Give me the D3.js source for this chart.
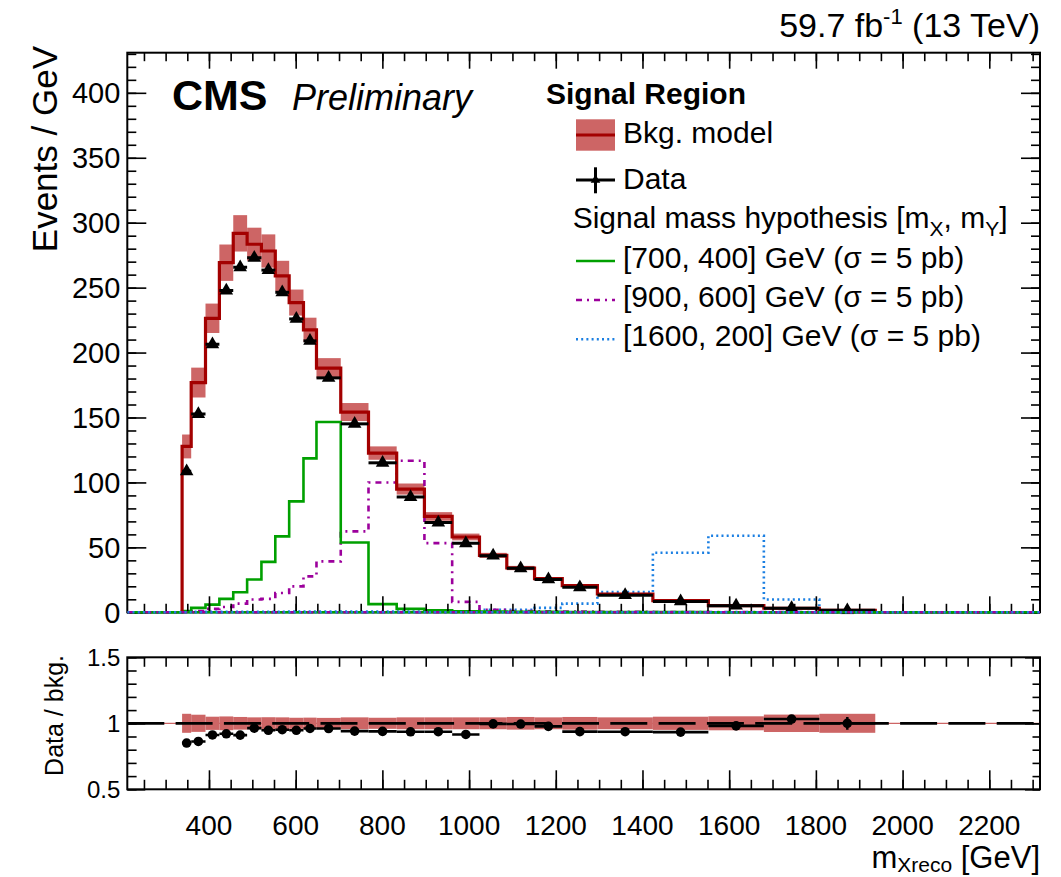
<!DOCTYPE html>
<html><head><meta charset="utf-8">
<script src="https://cdn.jsdelivr.net/npm/d3@7"></script>
<style>body{margin:0;background:#fff} text{font-family:"Liberation Sans",Arial,Helvetica,sans-serif;fill:#000}</style>
</head><body><svg id="c" width="1061" height="877"></svg>
<script>
// ---------------- data ----------------
const binEdges = [338, 359, 392, 424, 456, 488, 521, 553, 585, 618, 648, 704, 768, 833, 897, 961, 1024, 1087, 1151, 1215, 1296, 1424, 1552, 1680, 1808, 1937];
const bkg = [127.7, 176.9, 226.4, 269.2, 291.8, 283.4, 278.2, 259.0, 238.5, 217.5, 188.0, 154.2, 122.6, 94.9, 73.8, 58.0, 43.8, 34.1, 25.9, 20.5, 14.1, 9.0, 5.2, 3.1, 1.5];
const bkgRelErr = [0.072, 0.065, 0.05, 0.052, 0.048, 0.045, 0.046, 0.045, 0.042, 0.043, 0.041, 0.045, 0.042, 0.045, 0.045, 0.045, 0.045, 0.048, 0.045, 0.048, 0.045, 0.05, 0.053, 0.066, 0.072];
const data = [108.6, 152.6, 206.4, 247.8, 265.7, 273.0, 263.5, 246.4, 225.9, 209.0, 180.5, 145.1, 115.1, 88.8, 69.1, 53.1, 43.6, 33.9, 25.3, 19.2, 13.2, 8.4, 5.1, 3.2, 1.5];
const dataRelErr = [0.006, 0.005, 0.005, 0.004, 0.004, 0.004, 0.004, 0.004, 0.004, 0.004, 0.004, 0.004, 0.005, 0.005, 0.006, 0.006, 0.007, 0.008, 0.008, 0.009, 0.01, 0.012, 0.018, 0.03, 0.048];
const sigGreen = [1.0, 3.4, 5.9, 10.3, 15.4, 25.2, 38.8, 58.5, 85.4, 118.5, 146.5, 53.8, 6.3, 2.6, 1.5, 0.8, 0.5, 0.4, 0.3, 0.2, 0.1, 0.1, 0, 0, 0];
const sigPurple = [0.5, 1.0, 2.6, 4.1, 6.7, 9.8, 10.3, 14.9, 20.0, 27.7, 39.2, 62.3, 100.0, 116.7, 53.3, 8.0, 2.0, 1.0, 0.8, 0.6, 0.4, 0.2, 0.1, 0.1, 0];
const sigBlue = [0.3, 0.3, 0.4, 0.4, 0.4, 0.4, 0.4, 0.4, 0.5, 0.5, 0.5, 0.5, 0.5, 0.6, 0.6, 0.8, 2.0, 2.0, 3.4, 6.7, 15.5, 45.9, 59.0, 9.8, 1.5];
const xTickLabels = [400, 600, 800, 1000, 1200, 1400, 1600, 1800, 2000, 2200];
const yTickLabels = [0, 50, 100, 150, 200, 250, 300, 350, 400];
const ratioTickLabels = [0.5, 1, 1.5];
const legendEntries = ["[700, 400] GeV (σ = 5 pb)", "[900, 600] GeV (σ = 5 pb)", "[1600, 200] GeV (σ = 5 pb)"];

// ---------------- layout ----------------
const L = 127.3, R = 1040, T1 = 52.7, B1 = 612.3, T2 = 657.3, B2 = 789.3;
const xDom = [211.6, 2317];
const x = d3.scaleLinear().domain(xDom).range([L, R]);
const y = d3.scaleLinear().domain([0, 430.9]).range([B1, T1]);
const yr = d3.scaleLinear().domain([0.5, 1.5]).range([B2, T2]);

const bandCol = "#cd6565", bkgCol = "#a30000";
const cGreen = "#00a000", cPurple = "#9c009c", cBlue = "#1a7fe2";

const svg = d3.select("#c");
const defs = svg.append("defs");
defs.append("clipPath").attr("id", "clipMain").append("rect")
  .attr("x", L).attr("y", T1).attr("width", R - L).attr("height", B1 - T1 + 2);
defs.append("clipPath").attr("id", "clipRatio").append("rect")
  .attr("x", L).attr("y", T2).attr("width", R - L).attr("height", B2 - T2);

const bins = bkg.map((v, i) => ({
  x0: binEdges[i], x1: binEdges[i + 1], bkg: v, err: bkgRelErr[i],
  data: data[i], dErr: dataRelErr[i], ratio: data[i] / v
}));

// ---------------- main pad ----------------
const gM = svg.append("g").attr("clip-path", "url(#clipMain)");

gM.selectAll("rect.band").data(bins).join("rect")
  .attr("x", d => x(d.x0)).attr("width", d => x(d.x1) - x(d.x0))
  .attr("y", d => y(d.bkg * (1 + d.err)))
  .attr("height", d => y(d.bkg * (1 - d.err)) - y(d.bkg * (1 + d.err)))
  .attr("fill", bandCol);

const stepLine = d3.line().x(p => x(p[0])).y(p => y(p[1])).curve(d3.curveStepAfter);
function histPts(vals, extend) {
  const pts = [];
  if (extend) pts.push([xDom[0], 0]); else pts.push([binEdges[0], 0]);
  vals.forEach((v, i) => pts.push([binEdges[i], v]));
  pts.push([binEdges[vals.length], 0]);
  if (extend) pts.push([xDom[1], 0]);
  return pts;
}

gM.append("path").attr("d", stepLine(histPts(sigBlue, true))).attr("fill", "none")
  .attr("stroke", cBlue).attr("stroke-width", 2.6).attr("stroke-dasharray", "2,3.2");
gM.append("path").attr("d", stepLine(histPts(sigPurple, true))).attr("fill", "none")
  .attr("stroke", cPurple).attr("stroke-width", 2.6).attr("stroke-dasharray", "6,5,2,5");
gM.append("path").attr("d", stepLine(histPts(sigGreen, true))).attr("fill", "none")
  .attr("stroke", cGreen).attr("stroke-width", 2.6);

gM.append("path").attr("d", stepLine(histPts(bkg, false))).attr("fill", "none")
  .attr("stroke", bkgCol).attr("stroke-width", 3.2);

gM.selectAll("line.dh").data(bins).join("line")
  .attr("x1", d => x(d.x0)).attr("x2", d => x(d.x1))
  .attr("y1", d => y(d.data)).attr("y2", d => y(d.data))
  .attr("stroke", "#000").attr("stroke-width", 3);
gM.selectAll("line.dv").data(bins).join("line")
  .attr("x1", d => x((d.x0 + d.x1) / 2)).attr("x2", d => x((d.x0 + d.x1) / 2))
  .attr("y1", d => y(d.data * (1 + d.dErr))).attr("y2", d => y(d.data * (1 - d.dErr)))
  .attr("stroke", "#000").attr("stroke-width", 2.5);
const tri = d3.symbol().type(d3.symbolTriangle).size(80);
gM.selectAll("path.dm").data(bins).join("path")
  .attr("d", tri).attr("fill", "#000")
  .attr("transform", d => `translate(${x((d.x0 + d.x1) / 2)},${y(d.data)})`);

// ---------------- ratio pad ----------------
const gR = svg.append("g").attr("clip-path", "url(#clipRatio)");
gR.append("line").attr("x1", L).attr("x2", R).attr("y1", yr(1)).attr("y2", yr(1))
  .attr("stroke", bandCol).attr("stroke-width", 1.2);
gR.selectAll("rect.rb").data(bins).join("rect")
  .attr("x", d => x(d.x0)).attr("width", d => x(d.x1) - x(d.x0))
  .attr("y", d => yr(1 + d.err)).attr("height", d => yr(1 - d.err) - yr(1 + d.err))
  .attr("fill", bandCol);
gR.append("line").attr("x1", L).attr("x2", R).attr("y1", yr(1)).attr("y2", yr(1))
  .attr("stroke", "#000").attr("stroke-width", 2.8).attr("stroke-dasharray", "37,11.3");
gR.selectAll("line.rh").data(bins).join("line")
  .attr("x1", d => x(d.x0)).attr("x2", d => x(d.x1))
  .attr("y1", d => yr(d.ratio)).attr("y2", d => yr(d.ratio))
  .attr("stroke", "#000").attr("stroke-width", 2.6);
gR.selectAll("line.rv").data(bins).join("line")
  .attr("x1", d => x((d.x0 + d.x1) / 2)).attr("x2", d => x((d.x0 + d.x1) / 2))
  .attr("y1", d => yr(d.ratio * (1 + d.dErr))).attr("y2", d => yr(d.ratio * (1 - d.dErr)))
  .attr("stroke", "#000").attr("stroke-width", 2.5);
gR.selectAll("circle.rp").data(bins).join("circle")
  .attr("cx", d => x((d.x0 + d.x1) / 2)).attr("cy", d => yr(d.ratio)).attr("r", 4.8)
  .attr("fill", "#000");

// ---------------- axes / frames ----------------
const xMinor = d3.range(250, 2317, 50);
const yMinor = d3.range(0, 431, 10);
const rMinor = d3.range(0.5, 1.501, 0.1);

function tickAxis(gen, scale, vals, size, tx, ty) {
  const g = svg.append("g").attr("transform", `translate(${tx},${ty})`)
    .call(gen(scale).tickValues(vals).tickSize(size).tickFormat(""));
  g.select(".domain").remove();
  g.selectAll(".tick line").attr("stroke", "#000").attr("stroke-width", 1.6);
}
tickAxis(d3.axisBottom, x, xMinor, -8.5, 0, B1);
tickAxis(d3.axisBottom, x, xTickLabels, -16, 0, B1);
tickAxis(d3.axisTop, x, xMinor, -8.5, 0, T1);
tickAxis(d3.axisTop, x, xTickLabels, -16, 0, T1);
tickAxis(d3.axisLeft, y, yMinor, -9, L, 0);
tickAxis(d3.axisLeft, y, yTickLabels, -19, L, 0);
tickAxis(d3.axisRight, y, yMinor, -9, R, 0);
tickAxis(d3.axisRight, y, yTickLabels, -19, R, 0);
tickAxis(d3.axisBottom, x, xMinor, -9.5, 0, B2);
tickAxis(d3.axisBottom, x, xTickLabels, -19, 0, B2);
tickAxis(d3.axisTop, x, xMinor, -9.5, 0, T2);
tickAxis(d3.axisTop, x, xTickLabels, -19, 0, T2);
tickAxis(d3.axisLeft, yr, rMinor, -9.3, L, 0);
tickAxis(d3.axisLeft, yr, ratioTickLabels, -18, L, 0);
tickAxis(d3.axisRight, yr, rMinor, -7.5, R, 0);
tickAxis(d3.axisRight, yr, ratioTickLabels, -15, R, 0);

svg.append("rect").attr("x", L).attr("y", T1).attr("width", R - L).attr("height", B1 - T1)
  .attr("fill", "none").attr("stroke", "#000").attr("stroke-width", 2);
svg.append("rect").attr("x", L).attr("y", T2).attr("width", R - L).attr("height", B2 - T2)
  .attr("fill", "none").attr("stroke", "#000").attr("stroke-width", 2);

const gZ = svg.append("g").attr("clip-path", "url(#clipMain)");

// tick labels
svg.append("g").selectAll("text").data(yTickLabels).join("text")
  .attr("x", L - 7).attr("y", d => y(d)).attr("dy", "0.36em")
  .attr("text-anchor", "end").attr("font-size", 29).text(d => d);
svg.append("g").selectAll("text").data(ratioTickLabels).join("text")
  .attr("x", L - 7).attr("y", d => yr(d)).attr("dy", "0.36em")
  .attr("text-anchor", "end").attr("font-size", 24).text(d => d);
svg.append("g").selectAll("text").data(xTickLabels).join("text")
  .attr("x", d => x(d)).attr("y", 835)
  .attr("text-anchor", "middle").attr("font-size", 28).text(d => d);

// axis titles
svg.append("text").attr("transform", "translate(57,46) rotate(-90)")
  .attr("text-anchor", "end").attr("font-size", 35).text("Events / GeV");
svg.append("text").attr("transform", "translate(63,655) rotate(-90)")
  .attr("text-anchor", "end").attr("font-size", 25).text("Data / bkg.");
const xt = svg.append("text").attr("x", R).attr("y", 868).attr("text-anchor", "end").attr("font-size", 31);
xt.append("tspan").text("m");
xt.append("tspan").attr("font-size", 21).attr("dy", 4).text("Xreco");
xt.append("tspan").attr("dy", -4).text(" [GeV]");

// header texts
const lumi = svg.append("text").attr("x", R).attr("y", 37).attr("text-anchor", "end").attr("font-size", 34);
lumi.append("tspan").text("59.7 fb");
lumi.append("tspan").attr("font-size", 22).attr("dy", -13).text("-1");
lumi.append("tspan").attr("dy", 13).text(" (13 TeV)");
svg.append("text").attr("x", 172).attr("y", 110).attr("font-size", 43).attr("font-weight", "bold").text("CMS");
svg.append("text").attr("x", 292).attr("y", 110).attr("font-size", 36).attr("font-style", "italic").text("Preliminary");

// legend
const lx = 576, lw = 39, tx0 = 623, fs = 30;
svg.append("text").attr("x", 546).attr("y", 104).attr("font-size", 30).attr("font-weight", "bold").text("Signal Region");
svg.append("rect").attr("x", lx).attr("y", 119.3).attr("width", lw).attr("height", 31.4).attr("fill", bandCol);
svg.append("line").attr("x1", lx).attr("x2", lx + lw).attr("y1", 135).attr("y2", 135).attr("stroke", bkgCol).attr("stroke-width", 3);
svg.append("text").attr("x", tx0).attr("y", 143.3).attr("font-size", fs).text("Bkg. model");
svg.append("line").attr("x1", lx).attr("x2", lx + lw).attr("y1", 180).attr("y2", 180).attr("stroke", "#000").attr("stroke-width", 3);
svg.append("line").attr("x1", lx + lw / 2).attr("x2", lx + lw / 2).attr("y1", 167.3).attr("y2", 193.3).attr("stroke", "#000").attr("stroke-width", 3);
svg.append("path").attr("d", d3.symbol().type(d3.symbolTriangle).size(40)).attr("transform", `translate(${lx + lw / 2},180)`).attr("fill", "#000");
svg.append("text").attr("x", tx0).attr("y", 189.3).attr("font-size", fs).text("Data");
const sh = svg.append("text").attr("x", 572.7).attr("y", 228.3).attr("font-size", fs);
sh.append("tspan").text("Signal mass hypothesis [m");
sh.append("tspan").attr("font-size", 21).attr("dy", 8).text("X");
sh.append("tspan").attr("dy", -8).text(", m");
sh.append("tspan").attr("font-size", 21).attr("dy", 8).text("Y");
sh.append("tspan").attr("dy", -8).text("]");
const legSig = [
  {c: cGreen, dash: null, yl: 261, yt: 268.3},
  {c: cPurple, dash: "6,5,2,5", yl: 300, yt: 307.3},
  {c: cBlue, dash: "2,3.2", yl: 339.3, yt: 346}
];
legSig.forEach((s, i) => {
  const ln = svg.append("line").attr("x1", lx).attr("x2", lx + lw).attr("y1", s.yl).attr("y2", s.yl)
    .attr("stroke", s.c).attr("stroke-width", 2.6);
  if (s.dash) ln.attr("stroke-dasharray", s.dash);
  svg.append("text").attr("x", tx0).attr("y", s.yt).attr("font-size", fs).text(legendEntries[i]);
});

gZ.append("line").attr("x1", L).attr("x2", R).attr("y1", B1).attr("y2", B1)
  .attr("stroke", cGreen).attr("stroke-width", 2.6);
gZ.append("line").attr("x1", L).attr("x2", R).attr("y1", B1).attr("y2", B1)
  .attr("stroke", cPurple).attr("stroke-width", 2.6).attr("stroke-dasharray", "6,5,2,5");
gZ.append("line").attr("x1", L).attr("x2", R).attr("y1", B1).attr("y2", B1)
  .attr("stroke", cBlue).attr("stroke-width", 2.6).attr("stroke-dasharray", "2,3.2");
</script></body></html>
